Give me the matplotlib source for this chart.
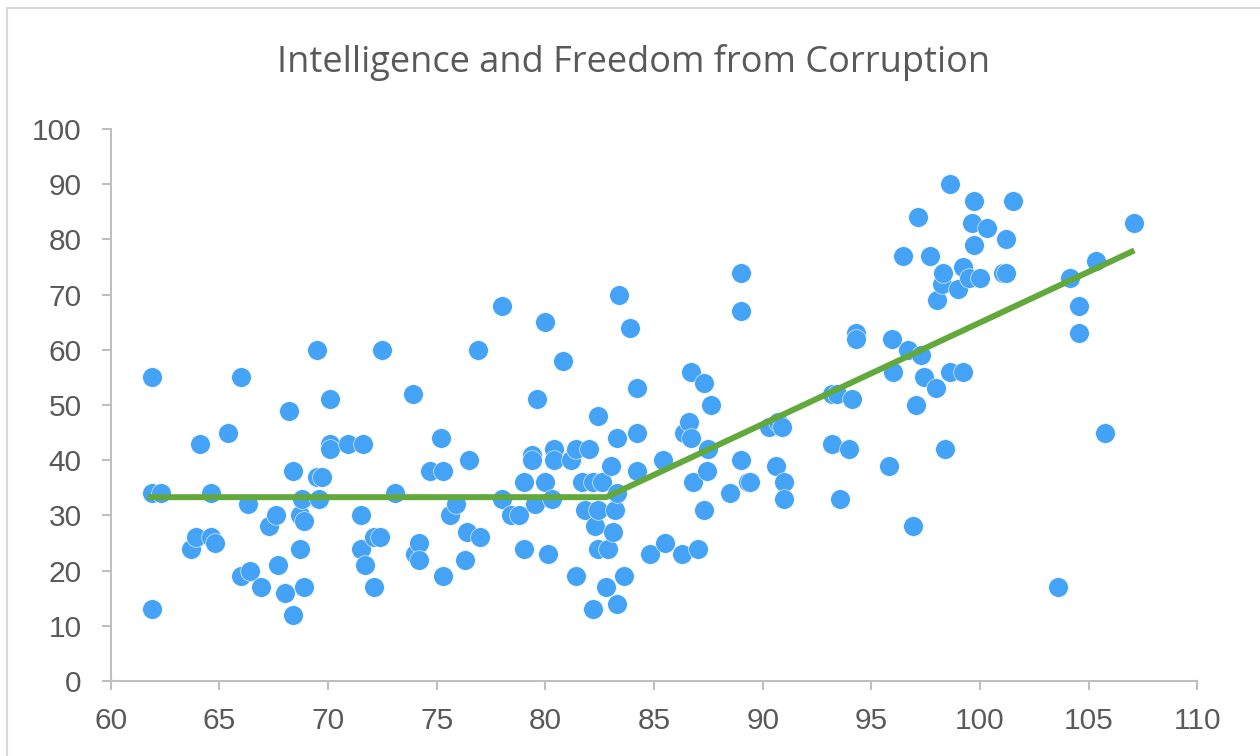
import matplotlib
matplotlib.use("Agg")
import matplotlib.pyplot as plt
from matplotlib.patches import Rectangle

# IQ (x) vs freedom from corruption score (y)
iq = [61.9, 61.9, 62.3, 61.9, 63.7, 63.9, 64.1, 64.6, 64.6, 64.8,
      65.4, 66.0, 66.0, 66.3, 66.4, 66.9, 67.3, 67.6, 67.7, 68.0,
      68.2, 68.4, 68.4, 68.7, 68.7, 68.8, 68.9, 68.9, 69.5, 69.5,
      69.7, 69.6, 70.1, 70.1, 70.1, 70.9, 71.6, 71.5, 71.5, 71.7,
      72.1, 72.4, 72.1, 72.5, 73.1, 73.9, 74.0, 74.2, 74.2, 74.7,
      75.3, 75.2, 75.3, 75.6, 75.9, 76.3, 76.4, 76.5, 76.9, 77.0,
      78.0, 78.0, 78.4, 78.8, 79.0, 79.0, 79.4, 79.4, 79.5, 79.6,
      80.0, 80.0, 80.1, 80.3, 80.4, 80.4, 80.8, 81.2, 81.4, 81.4,
      81.7, 81.8, 82.0, 82.2, 82.2, 82.3, 82.4, 82.4, 82.4, 82.6,
      82.8, 82.9, 83.0, 83.1, 83.2, 83.3, 83.3, 83.3, 83.4, 83.6,
      83.9, 84.2, 84.2, 84.2, 84.8, 85.4, 85.5, 86.3, 86.4, 86.6,
      86.7, 86.7, 86.8, 87.0, 87.3, 87.3, 87.45, 87.5, 87.6, 88.5,
      89.0, 89.0, 89.0, 89.3, 89.4, 90.3, 90.6, 90.7, 90.9, 91.0,
      91.0, 93.2, 93.4, 93.2, 93.55, 93.96, 94.1, 94.3, 94.3, 95.8,
      95.95, 96.0, 96.45, 96.7, 96.9, 97.05, 97.15, 97.3, 97.4, 97.7,
      97.96, 98.0, 98.25, 98.3, 98.4, 98.6, 98.6, 99.0, 99.2, 99.2,
      99.5, 99.65, 99.7, 99.7, 100.0, 100.3, 101.05, 101.2, 101.2, 101.5,
      103.6, 104.15, 104.57, 104.57, 105.35, 105.77, 107.1]
corruption = [55, 34, 34, 13, 24, 26, 43, 34, 26, 25,
              45, 55, 19, 32, 20, 17, 28, 30, 21, 16,
              49, 38, 12, 24, 30, 33, 29, 17, 60, 37,
              37, 33, 51, 43, 42, 43, 43, 30, 24, 21,
              26, 26, 17, 60, 34, 52, 23, 25, 22, 38,
              38, 44, 19, 30, 32, 22, 27, 40, 60, 26,
              68, 33, 30, 30, 36, 24, 41, 40, 32, 51,
              65, 36, 23, 33, 42, 40, 58, 40, 42, 19,
              36, 31, 42, 36, 13, 28, 48, 31, 24, 36,
              17, 24, 39, 27, 31, 44, 34, 14, 70, 19,
              64, 53, 45, 38, 23, 40, 25, 23, 45, 47,
              44, 56, 36, 24, 54, 31, 38, 42, 50, 34,
              74, 67, 40, 36, 36, 46, 39, 47, 46, 36,
              33, 52, 52, 43, 33, 42, 51, 63, 62, 39,
              62, 56, 77, 60, 28, 50, 84, 59, 55, 77,
              53, 69, 72, 74, 42, 90, 56, 71, 75, 56,
              73, 83, 87, 79, 73, 82, 74, 74, 80, 87,
              17, 73, 68, 63, 76, 45, 83]

# piecewise trend line
trend_x = [61.7, 82.8, 107.1]
trend_y = [33.3, 33.3, 78.0]

x_ticks = [60, 65, 70, 75, 80, 85, 90, 95, 100, 105, 110]
y_ticks = [0, 10, 20, 30, 40, 50, 60, 70, 80, 90, 100]

grey_text = "#595959"
axis_grey = "#BFBFBF"

fig = plt.figure(figsize=(12.6, 7.56), dpi=100)
fig.patches.append(Rectangle((0.0056, -0.1), 1.2, 0.9894 + 0.1, transform=fig.transFigure,
                             fill=False, edgecolor="#D9D9D9", linewidth=1.5))

ax = fig.add_axes([0.0879, 0.0992, 0.8624, 0.7302])
ax.scatter(iq, corruption, s=200, color="#45A3F7", edgecolor="white", linewidth=0.4, zorder=2)
ax.plot(trend_x, trend_y, color="#63A83B", linewidth=4.3, solid_capstyle="butt", zorder=3)

ax.set_xlim(60, 110)
ax.set_ylim(0, 100)
ax.set_xticks(x_ticks)
ax.set_yticks(y_ticks)

for side in ["top", "right"]:
    ax.spines[side].set_visible(False)
for side in ["left", "bottom"]:
    ax.spines[side].set_color(axis_grey)
    ax.spines[side].set_linewidth(1.5)

ax.tick_params(axis="both", direction="out", length=6.8, width=1.5, color=axis_grey,
               labelcolor=grey_text, labelsize=21.5)
ax.tick_params(axis="y", pad=14)
ax.tick_params(axis="x", pad=12)
for lab in ax.get_xticklabels() + ax.get_yticklabels():
    lab.set_fontfamily("Liberation Sans")

fig.text(0.503, 0.917, "Intelligence and Freedom from Corruption", ha="center", va="center",
         fontsize=26, color=grey_text, family="Open Sans")

fig.savefig("out.png", dpi=100)
